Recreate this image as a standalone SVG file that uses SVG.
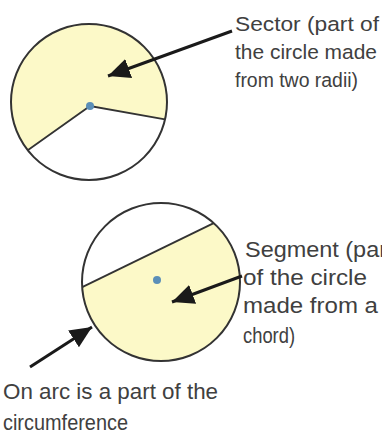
<svg xmlns="http://www.w3.org/2000/svg" width="382" height="442" viewBox="0 0 382 442">
<style>
.bg{fill:#ffffff}
.fill{fill:#fcf9c8;stroke:none}
.outline{fill:none;stroke:#333333;stroke-width:2}
.radius{fill:none;stroke:#333333;stroke-width:1.8}
.dot{fill:#5b8fb8}
.arrow{fill:none;stroke:#1a1a1a;stroke-width:3;marker-end:url(#head)}
.label{font-family:"Liberation Sans",Arial,sans-serif;font-size:22px;fill:#404040}
.tight{font-size:20.5px}
</style>
<defs>
<marker id="head" markerUnits="userSpaceOnUse" markerWidth="24" markerHeight="22" refX="22" refY="10" orient="auto">
<path d="M0,0 L22,10 L0,20 Z" fill="#1a1a1a"/>
</marker>
</defs>
<rect class="bg" x="0" y="0" width="382" height="442"/>
<g id="sector-circle">
<path class="fill" d="M90 106 L27.7 150.2 A78 78 0 1 1 165 119.4 Z"/>
<circle class="outline" cx="89" cy="102" r="78"/>
<polyline class="radius" points="27.7,150.2 90,106 165,119.4"/>
<circle class="dot" cx="90" cy="106" r="4"/>
</g>
<g id="segment-circle">
<path class="fill" d="M213.7 223.1 A79 79 0 1 1 82.2 287.1 Z"/>
<circle class="outline" cx="161" cy="282" r="79"/>
<line class="radius" x1="82.2" y1="287.1" x2="213.7" y2="223.1"/>
<circle class="dot" cx="157" cy="280" r="4"/>
</g>
<g id="connectors">
<line class="arrow" x1="232" y1="31" x2="108" y2="76"/>
<line class="arrow" x1="242" y1="276" x2="172" y2="302"/>
<line class="arrow" x1="30" y1="367" x2="92" y2="327"/>
</g>
<g id="sector-label">
<text class="label tight" x="235" y="31" textLength="144" lengthAdjust="spacingAndGlyphs">Sector (part of</text>
<text class="label tight" x="235" y="59" textLength="142" lengthAdjust="spacingAndGlyphs">the circle made</text>
<text class="label tight" x="235" y="87" textLength="123" lengthAdjust="spacingAndGlyphs">from two radii)</text>
</g>
<g id="segment-label">
<text class="label" x="245" y="257" textLength="142" lengthAdjust="spacingAndGlyphs">Segment (par</text>
<text class="label" x="243" y="285" textLength="124" lengthAdjust="spacingAndGlyphs">of the circle</text>
<text class="label" x="243" y="313" textLength="135" lengthAdjust="spacingAndGlyphs">made from a</text>
<text class="label" x="243" y="343" textLength="52" lengthAdjust="spacingAndGlyphs">chord)</text>
</g>
<g id="arc-label">
<text class="label" x="3" y="399" textLength="215" lengthAdjust="spacingAndGlyphs">On arc is a part of the</text>
<text class="label" x="3" y="430" textLength="125" lengthAdjust="spacingAndGlyphs">circumference</text>
</g>
</svg>
